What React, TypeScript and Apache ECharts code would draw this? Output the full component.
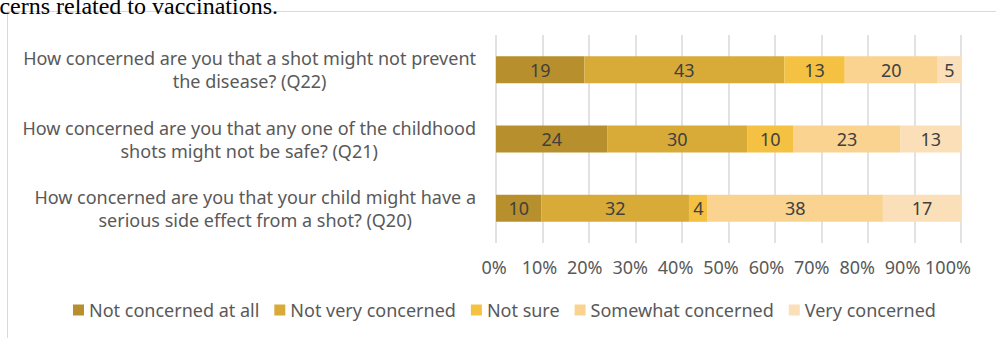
import React, { useEffect, useRef } from "react";
import * as echarts from "echarts";

const categories = [
  "How concerned are you that a shot might not prevent\nthe disease? (Q22)",
  "How concerned are you that any one of the childhood\nshots might not be safe? (Q21)",
  "How concerned are you that your child might have a\nserious side effect from a shot? (Q20)",
];
const seriesNames = [
  "Not concerned at all",
  "Not very concerned",
  "Not sure",
  "Somewhat concerned",
  "Very concerned",
];
const notConcernedAtAll = [19, 24, 9.8];
const notVeryConcerned = [43, 30, 31.7];
const notSure = [13, 10, 4];
const somewhatConcerned = [20, 23, 37.7];
const veryConcerned = [5, 13, 16.8];
const seriesValues = [notConcernedAtAll, notVeryConcerned, notSure, somewhatConcerned, veryConcerned];
const colors = ["#B78F2D", "#D8AB39", "#F4C142", "#F9D38F", "#FADFB8"];
const xTicks = [0, 10, 20, 30, 40, 50, 60, 70, 80, 90, 100];

const FONT = "'Noto Sans', sans-serif";

const tickRich: Record<string, any> = {};
xTicks.forEach((_, i) => {
  const shift = 2 + 1.1 * i;
  tickRich["t" + i] = {
    color: "#595959",
    fontSize: 18,
    fontFamily: FONT,
    padding: [0, shift * 2, 0, 0],
  };
});

export default function App() {
  const ref = useRef<HTMLDivElement>(null);
  useEffect(() => {
    document.body.style.margin = "0";
    const chart = echarts.init(ref.current!, null, { renderer: "svg" });
    chart.setOption({
      animation: false,
      textStyle: { fontFamily: FONT },
      graphic: [
        {
          type: "rect",
          shape: { x: 7.5, y: 11.5, width: 1200, height: 500 },
          style: { fill: "none", stroke: "#D9D9D9", lineWidth: 1 },
          z: 0,
        },
        {
          type: "text",
          style: {
            text: "concerns related to vaccinations.",
            x: 278,
            y: 18,
            align: "right",
            verticalAlign: "bottom",
            font: "24px 'Liberation Serif', serif",
            fill: "#000",
          },
        },
      ],
      grid: { left: 496, right: 35, top: 35, bottom: 95, containLabel: false },
      xAxis: {
        type: "value",
        min: xTicks[0],
        max: xTicks[xTicks.length - 1],
        interval: 10,
        axisLine: { show: false },
        axisTick: { show: false },
        splitLine: { lineStyle: { color: "#D9D9D9", width: 1.5 } },
        axisLabel: {
          formatter: (v: number, i: number) => `{t${i}|${v}%}`,
          rich: tickRich,
          margin: 15,
        },
      },
      yAxis: {
        type: "category",
        inverse: true,
        data: categories,
        axisLine: { show: false },
        axisTick: { show: false },
        axisLabel: {
          margin: 20,
          formatter: (v: string) =>
            v
              .split("\n")
              .map((l) => `{c|${l}}`)
              .join("\n"),
          rich: {
            c: {
              align: "center",
              fontSize: 18,
              lineHeight: 23,
              color: "#595959",
              fontFamily: FONT,
            },
          },
        },
      },
      legend: {
        left: 73,
        top: 301,
        padding: 0,
        itemWidth: 11,
        itemHeight: 11,
        itemGap: 15,
        icon: "rect",
        textStyle: { color: "#595959", fontSize: 18, fontFamily: FONT },
        data: seriesNames,
      },
      series: seriesNames.map((name, i) => ({
        name,
        type: "bar",
        stack: "total",
        barWidth: 27,
        data: seriesValues[i],
        itemStyle: { color: colors[i] },
        label: {
          show: true,
          position: "inside",
          color: "#404040",
          fontSize: 18,
          fontFamily: FONT,
          formatter: (p: any) => String(Math.round(p.value)),
        },
      })),
    });
    return () => chart.dispose();
  }, []);
  return <div ref={ref} style={{ width: 996, height: 338 }} />;
}
